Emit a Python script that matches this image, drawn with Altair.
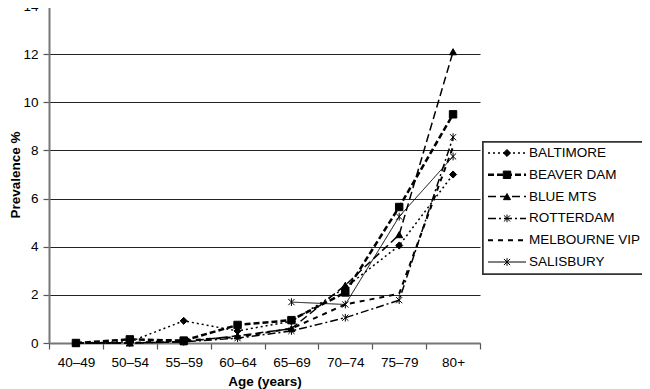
import altair as alt
import pandas as pd

ages = ["40–49", "50–54", "55–59", "60–64", "65–69", "70–74", "75–79", "80+"]
series_names = ["BALTIMORE", "BEAVER DAM", "BLUE MTS", "ROTTERDAM", "MELBOURNE VIP", "SALISBURY"]

baltimore = [0.0, 0.05, 0.92, 0.5, 0.9, 2.3, 4.05, 7.0]
beaver_dam = [0.0, 0.15, 0.1, 0.75, 0.95, 2.1, 5.65, 9.5]
blue_mts = [0.0, 0.0, 0.05, 0.3, 0.6, 2.4, 4.5, 12.1]
rotterdam = [0.0, 0.0, 0.05, 0.2, 0.5, 1.05, 1.78, 8.55]
melbourne_vip = [0.0, 0.0, 0.1, 0.25, 0.6, 1.6, 2.05, 8.15]
salisbury = [None, None, None, None, 1.7, 1.6, 5.25, 7.75]

all_series = [baltimore, beaver_dam, blue_mts, rotterdam, melbourne_vip, salisbury]

rows = []
for name, vals in zip(series_names, all_series):
    for a, v in zip(ages, vals):
        if v is not None:
            rows.append({"age": a, "series": name, "value": v})
df = pd.DataFrame(rows)

ASTER = "M-0.8,-0.8L0.8,0.8M-0.8,0.8L0.8,-0.8M0,-1L0,1"
dash_range = [[2, 3], [6, 3], [8, 4], [8, 3, 2, 3], [5, 5], [1, 0]]
width_range = [1.5, 2.5, 1.5, 1.5, 2, 1]
shape_range = ["diamond", "square", "triangle-up", ASTER, "circle", ASTER]
size_range = [50, 55, 50, 60, 1, 60]

FONT = "Liberation Sans"

dash_scale = alt.Scale(domain=series_names, range=dash_range)
width_scale = alt.Scale(type="ordinal", domain=series_names, range=width_range)
shape_scale = alt.Scale(domain=series_names, range=shape_range)
size_scale = alt.Scale(type="ordinal", domain=series_names, range=size_range)

x_enc = alt.X(
    "age:O",
    sort=ages,
    scale=alt.Scale(type="band", domain=ages, paddingInner=0, paddingOuter=0),
    axis=alt.Axis(
        title="Age (years)",
        tickBand="extent",
        labelAngle=0,
        tickSize=6,
        labelPadding=6,
        titlePadding=6,
        grid=False,
    ),
)
y_enc = alt.Y(
    "value:Q",
    scale=alt.Scale(domain=[0, 14], nice=False),
    axis=alt.Axis(
        title="Prevalence %",
        values=list(range(0, 15, 2)),
        grid=True,
        tickSize=6,
        labelPadding=5,
        titlePadding=0,
    ),
)

lines = alt.Chart(df).mark_line(color="black").encode(
    x=x_enc,
    y=y_enc,
    detail="series:N",
    strokeDash=alt.StrokeDash("series:N", scale=dash_scale, legend=None),
    strokeWidth=alt.StrokeWidth("series:N", scale=width_scale, legend=None),
)

points = alt.Chart(df).transform_filter(
    alt.datum.series != "MELBOURNE VIP"
).mark_point(filled=True, color="black", stroke="black", strokeWidth=1, opacity=1).encode(
    x=alt.X("age:O", sort=ages, scale=alt.Scale(type="band", domain=ages, paddingInner=0, paddingOuter=0)),
    y=alt.Y("value:Q"),
    shape=alt.Shape("series:N", scale=shape_scale, legend=None),
    size=alt.Size("series:N", scale=size_scale, legend=None),
)

main = alt.layer(lines, points)

leg_df = pd.DataFrame({"series": series_names, "x0": [0.0] * 6, "x1": [1.0] * 6, "mid": [0.5] * 6})
lx = alt.Scale(domain=[0, 1], range=[439, 477])
ly = alt.Scale(type="point", domain=series_names, range=[147, 256], padding=0)

box = alt.Chart(leg_df).mark_rect(fill="white", stroke="#333", strokeWidth=1.5).encode(
    x=alt.value(434), x2=alt.value(720), y=alt.value(136), y2=alt.value(268)
)
leg_lines = alt.Chart(leg_df).mark_rule(color="black").encode(
    x=alt.X("x0:Q", scale=lx, axis=None),
    x2="x1:Q",
    y=alt.Y("series:N", scale=ly, axis=None),
    strokeDash=alt.StrokeDash("series:N", scale=dash_scale, legend=None),
    strokeWidth=alt.StrokeWidth("series:N", scale=width_scale, legend=None),
)
leg_pts = alt.Chart(leg_df).transform_filter(
    alt.datum.series != "MELBOURNE VIP"
).mark_point(filled=True, color="black", stroke="black", strokeWidth=1, opacity=1).encode(
    x=alt.X("mid:Q", scale=lx, axis=None),
    y=alt.Y("series:N", scale=ly, axis=None),
    shape=alt.Shape("series:N", scale=shape_scale, legend=None),
    size=alt.Size("series:N", scale=size_scale, legend=None),
)
leg_text = alt.Chart(leg_df).mark_text(
    align="left", baseline="middle", dx=3, fontSize=13.5, font=FONT, color="black"
).encode(
    x=alt.X("x1:Q", scale=lx, axis=None),
    y=alt.Y("series:N", scale=ly, axis=None),
    text="series:N",
)
legend = alt.layer(box, leg_lines, leg_pts, leg_text)

chart = alt.layer(main, legend).resolve_scale(x="independent", y="independent").properties(
    width=431,
    height=337,
    autosize=alt.AutoSizeParams(type="none"),
    padding={"left": 41, "top": -2, "right": 162, "bottom": 46},
).configure_view(stroke=None).configure_axis(
    labelFont=FONT,
    titleFont=FONT,
    labelFontSize=13.5,
    titleFontSize=13.5,
    titleFontWeight="bold",
    labelColor="black",
    titleColor="black",
    domainColor="#777",
    domainWidth=2,
    tickColor="#555",
    tickWidth=1.2,
    gridColor="#222",
    gridWidth=1,
)

chart.save("out.html", embed_options={"renderer": "svg", "actions": False})
